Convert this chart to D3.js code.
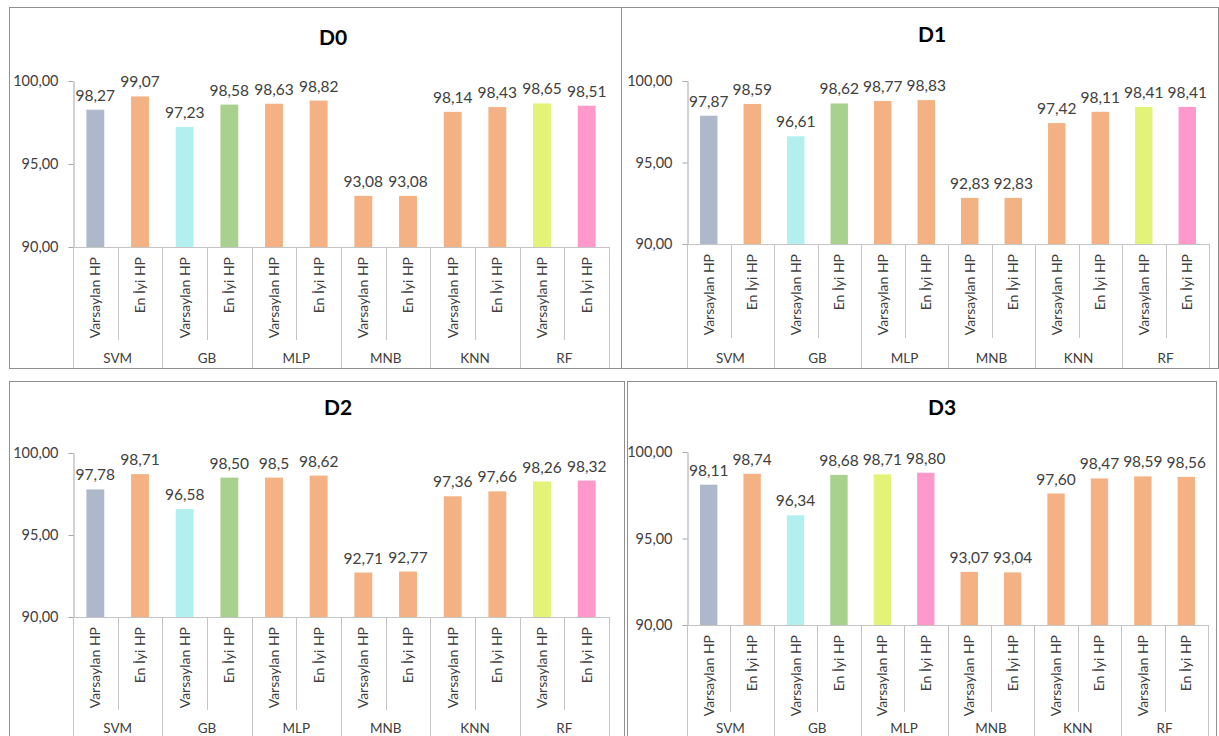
<!DOCTYPE html>
<html><head><meta charset="utf-8">
<script src="https://cdn.jsdelivr.net/npm/d3@7"></script>
<style>
body{margin:0;background:#fff}
svg{display:block}
text{font-family:Lato,"Open Sans",sans-serif}
</style></head><body>
<svg id="c" width="1219" height="736"></svg>
<script>
// ---- data ----
const groups = ["SVM","GB","MLP","MNB","KNN","RF"];
const subcats = ["Varsaylan HP","En İyi HP"];
const yTicks = [90,95,100];
const titles = ["D0","D1","D2","D3"];
const d0Values = [98.27,99.07,97.23,98.58,98.63,98.82,93.08,93.08,98.14,98.43,98.65,98.51];
const d1Values = [97.87,98.59,96.61,98.62,98.77,98.83,92.83,92.83,97.42,98.11,98.41,98.41];
const d2Values = [97.78,98.71,96.58,98.50,98.50,98.62,92.71,92.77,97.36,97.66,98.26,98.32];
const d3Values = [98.11,98.74,96.34,98.68,98.71,98.80,93.07,93.04,97.60,98.47,98.59,98.56];
// label text shown differently from the 2-decimal format
const d2LabelOverrides = {4:"98,5"};
// colour keys per bar
const d0Keys = ["gray","orange","cyan","green","orange","orange","orange","orange","orange","orange","yellow","pink"];
const d1Keys = ["gray","orange","cyan","green","orange","orange","orange","orange","orange","orange","yellow","pink"];
const d2Keys = ["gray","orange","cyan","green","orange","orange","orange","orange","orange","orange","yellow","pink"];
const d3Keys = ["gray","orange","cyan","green","yellow","pink","orange","orange","orange","orange","orange","orange"];

// ---- styles / layout ----
const palette = {gray:"#ADB9CA",orange:"#F4B183",cyan:"#B3EFEF",green:"#A9D18E",yellow:"#E2F378",pink:"#FF99CC"};
const panels = [
  {title:titles[0],values:d0Values,keys:d0Keys,over:{},
   box:[9,7,621,368],left:73,right:609,top:81,base:247,tx:333,ty:45,sep:340,gy:363,bottom:368},
  {title:titles[1],values:d1Values,keys:d1Keys,over:{},
   box:[621,7,1218,368],left:687,right:1209,top:81,base:244,tx:932,ty:42,sep:338,gy:363,bottom:368},
  {title:titles[2],values:d2Values,keys:d2Keys,over:d2LabelOverrides,
   box:[9,381,624,760],left:73,right:609,top:453,base:617,tx:338,ty:415,sep:710,gy:733,bottom:736},
  {title:titles[3],values:d3Values,keys:d3Keys,over:{},
   box:[627,381,1216,760],left:687,right:1208,top:452,base:625,tx:942,ty:415,sep:712,gy:733,bottom:736}
];

const svg = d3.select("#c");
const fmt = v => d3.format(".2f")(v).replace(".",",");
const cats = d3.range(groups.length*subcats.length);

panels.forEach(p => {
  const g = svg.append("g");
  const [x0,y0,x1,y1] = p.box;
  g.append("rect").attr("x",x0+0.5).attr("y",y0+0.5).attr("width",x1-x0).attr("height",y1-y0)
    .attr("fill","none").attr("stroke","#8f8f8f").attr("stroke-width",1);

  const x = d3.scaleBand().domain(cats).range([p.left,p.right]);
  const y = d3.scaleLinear().domain([90,100]).range([p.base,p.top]);
  const step = x.step();
  const bw = step*0.4;

  // bars
  g.selectAll("rect.bar").data(p.values).join("rect").attr("class","bar")
    .attr("x",(d,i)=>x(i)+(step-bw)/2).attr("width",bw)
    .attr("y",d=>y(d)).attr("height",d=>y(90)-y(d))
    .attr("fill",(d,i)=>palette[p.keys[i]]);

  // y axis
  const ya = g.append("g").attr("transform",`translate(${p.left+0.5},0)`)
    .call(d3.axisLeft(y).tickValues(yTicks).tickFormat(fmt).tickSize(5).tickSizeOuter(0).tickPadding(10));
  ya.select(".domain").attr("stroke","#a6a6a6");
  ya.selectAll(".tick line").attr("stroke","#a6a6a6");
  ya.selectAll(".tick text").attr("font-size","14.5px").attr("fill","#404040").attr("font-family","Lato");

  // category axis
  const ca = g.append("g").attr("stroke","#c4c4c4").attr("stroke-width",1);
  ca.append("line").attr("x1",p.left).attr("x2",p.right).attr("y1",y(90)+0.5).attr("y2",y(90)+0.5);
  d3.range(cats.length+1).forEach(i => {
    const xx = Math.round(i<cats.length ? x(i) : p.right)+0.5;
    ca.append("line").attr("x1",xx).attr("x2",xx).attr("y1",y(90))
      .attr("y2", i%2===0 ? p.bottom : p.sep);
  });

  // sub category labels (rotated)
  g.selectAll("text.sub").data(cats).join("text").attr("class","sub")
    .attr("transform",i=>`translate(${x(i)+step/2+5},${y(90)+10}) rotate(-90)`)
    .attr("text-anchor","end").attr("font-size","14px").attr("fill","#404040")
    .text(i=>subcats[i%2]);

  // group labels
  g.selectAll("text.grp").data(groups).join("text").attr("class","grp")
    .attr("x",(d,j)=>x(j*2)+step).attr("y",p.gy)
    .attr("text-anchor","middle").attr("font-size","13.5px").attr("fill","#404040")
    .text(d=>d);

  // value labels
  g.selectAll("text.val").data(p.values).join("text").attr("class","val")
    .attr("x",(d,i)=>x(i)+step/2).attr("y",d=>y(d)-9)
    .attr("text-anchor","middle").attr("font-size","15.5px").attr("fill","#404040")
    .text((d,i)=>p.over[i]!==undefined ? p.over[i] : fmt(d));

  // title
  g.append("text").attr("x",p.tx).attr("y",p.ty).attr("text-anchor","middle")
    .attr("font-size","21px").attr("font-weight","bold").attr("fill","#000").text(p.title);
});
</script>
</body></html>
